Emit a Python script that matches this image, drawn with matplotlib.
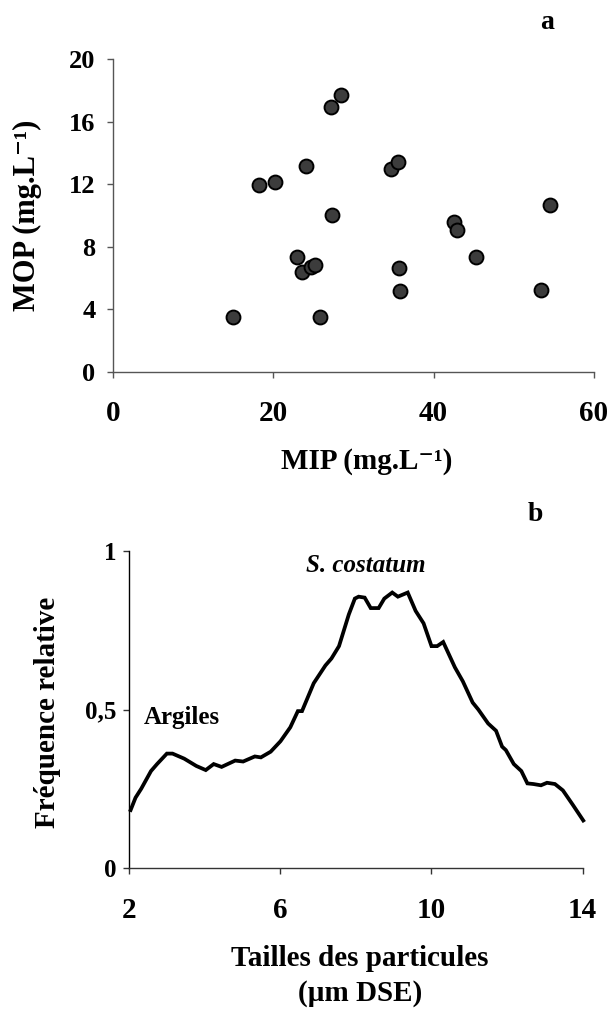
import matplotlib
matplotlib.use("Agg")
import matplotlib.pyplot as plt

plt.rcParams["font.family"] = ["Liberation Serif", "DejaVu Serif"]
plt.rcParams["font.weight"] = "bold"

# (a) MIP vs MOP
mip = [15.0, 18.2, 20.2, 24.1, 27.2, 28.4, 27.3, 22.9, 23.6, 24.7, 25.2,
       25.8, 34.7, 35.6, 35.7, 35.8, 42.5, 42.9, 45.3, 53.4, 54.5]
mop = [3.54, 11.97, 12.14, 13.17, 16.95, 17.69, 10.05, 7.34, 6.38, 6.70, 6.83,
       3.52, 13.0, 13.40, 6.62, 5.17, 9.58, 9.09, 7.32, 5.25, 10.67]

# (b) particle size spectrum
taille = [2.03, 2.16, 2.31, 2.57, 2.73, 2.99, 3.14, 3.45, 3.77, 4.02, 4.23,
          4.44, 4.80, 5.01, 5.32, 5.48, 5.74, 6.00, 6.26, 6.46, 6.57, 6.88,
          7.19, 7.35, 7.55, 7.81, 7.97, 8.07, 8.23, 8.39, 8.60, 8.75, 8.96,
          9.11, 9.37, 9.58, 9.79, 10.00, 10.15, 10.31, 10.62, 10.83, 11.09,
          11.24, 11.50, 11.71, 11.87, 11.97, 12.18, 12.38, 12.54, 12.70,
          12.90, 13.06, 13.27, 13.48, 13.74, 14.02]
freq = [0.183, 0.222, 0.250, 0.306, 0.328, 0.361, 0.361, 0.345, 0.322, 0.309,
        0.328, 0.319, 0.339, 0.336, 0.352, 0.349, 0.367, 0.400, 0.444, 0.495,
        0.495, 0.583, 0.639, 0.661, 0.700, 0.800, 0.850, 0.856, 0.853, 0.820,
        0.820, 0.850, 0.869, 0.856, 0.869, 0.811, 0.772, 0.700, 0.700, 0.713,
        0.633, 0.589, 0.522, 0.500, 0.456, 0.433, 0.383, 0.372, 0.328, 0.306,
        0.267, 0.265, 0.261, 0.269, 0.265, 0.245, 0.200, 0.150]

fig = plt.figure(figsize=(6.14, 10.09), dpi=100)

def style_axes(ax, axis_color):
    for s in ["top", "right"]:
        ax.spines[s].set_visible(False)
    for s in ["left", "bottom"]:
        ax.spines[s].set_color(axis_color)
        ax.spines[s].set_linewidth(1.0)
    ax.tick_params(direction="out", length=4.5, width=1.0, color=axis_color)

# ---- a ----
ax1 = fig.add_axes([0.184, 0.6313, 0.7834, 0.3102])
ax1.scatter(mip, mop, s=100, facecolor="#3c3c3c", edgecolor="black",
            linewidth=1.4, zorder=3, clip_on=False)
ax1.set_xlim(0, 60)
ax1.set_ylim(0, 20)
ax1.set_xticks([0, 20, 40, 60])
ax1.set_yticks([0, 4, 8, 12, 16, 20])
style_axes(ax1, "#555555")
ax1.tick_params(axis="y", labelsize=19, pad=8)
ax1.tick_params(axis="x", labelsize=21, pad=16)
ax1.text(-0.177, 0.5, "MOP (mg.L⁻¹)", transform=ax1.transAxes, rotation=90,
         fontsize=22, fontweight="bold", ha="center", va="center")
ax1.text(0.528, -0.285, "MIP (mg.L⁻¹)", transform=ax1.transAxes,
         fontsize=21, fontweight="bold", ha="center", va="center")
ax1.text(0.902, 1.118, "a", transform=ax1.transAxes, fontsize=20,
         fontweight="bold", ha="center", va="center")

# ---- b ----
ax2 = fig.add_axes([0.2109, 0.1397, 0.7378, 0.3142])
ax2.plot(taille, freq, color="black", linewidth=2.7, solid_joinstyle="miter",
         clip_on=False)
ax2.set_xlim(2, 14)
ax2.set_ylim(0, 1)
ax2.set_xticks([2, 6, 10, 14])
ax2.set_yticks([0, 0.5, 1])
ax2.set_yticklabels(["0", "0,5", "1"])
style_axes(ax2, "#333333")
ax2.spines["left"].set_color("black")
ax2.tick_params(axis="y", labelsize=18, pad=5)
ax2.tick_params(axis="x", labelsize=21, pad=16)
ax2.text(-0.182, 0.49, "Fréquence relative", transform=ax2.transAxes,
         rotation=90, fontsize=21, fontweight="bold", ha="center", va="center")
ax2.text(0.509, -0.285, "Tailles des particules", transform=ax2.transAxes,
         fontsize=21, fontweight="bold", ha="center", va="center")
ax2.text(0.509, -0.395, "(µm DSE)", transform=ax2.transAxes,
         fontsize=21, fontweight="bold", ha="center", va="center")
ax2.text(0.895, 1.115, "b", transform=ax2.transAxes, fontsize=20,
         fontweight="bold", ha="center", va="center")
ax2.text(8.27, 0.954, "S. costatum", fontsize=18, fontweight="bold",
         fontstyle="italic", ha="center", va="center")
ax2.text(3.38, 0.476, "Argiles", fontsize=18, fontweight="bold",
         ha="center", va="center")

fig.savefig("out.png", dpi=100)
